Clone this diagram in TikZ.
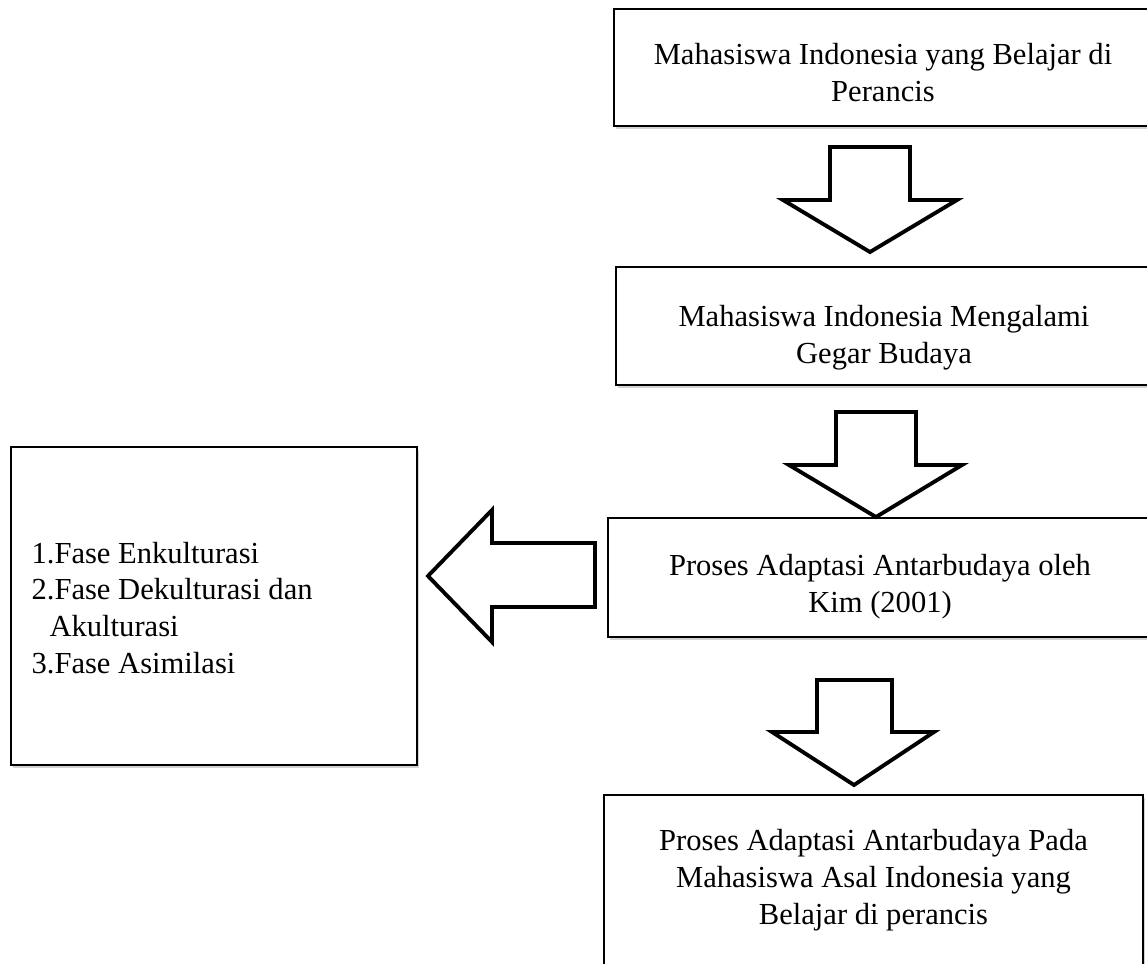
\documentclass[tikz,border=0pt]{standalone}
\usepackage{fontspec}
\setmainfont{Liberation Serif}
\usetikzlibrary{positioning, shadows}

\begin{document}
\begin{tikzpicture}[
  x=0.02cm, y=-0.02cm,
  box/.style = {rectangle, draw=black, line width=0.9pt, fill=white, inner sep=0pt,
                drop shadow={shadow xshift=1pt, shadow yshift=-1.5pt, opacity=0.35}},
  txt/.style = {align=center, font=\fontsize{17.4}{21}\selectfont, inner sep=0pt},
  blk/.style = {draw=black, line width=2.2pt, fill=white, line join=miter},
]
  \useasboundingbox (0,0) rectangle (1147,964);
  \clip (0,0) rectangle (1147,964);

  % boxes
  \node[box, minimum width=10.76cm, minimum height=2.34cm] (awal) at (883,67.5) {};
  \node[box, minimum width=10.72cm, minimum height=2.36cm] (gegar) at (884,326) {};
  \node[box, minimum width=10.88cm, minimum height=2.38cm] (kim) at (880,577.5) {};
  \node[box, minimum width=8.12cm, minimum height=6.36cm] (fase) at (214,606) {};
  \node[box, minimum width=10.78cm, minimum height=4.1cm] (hasil) at (873.5,897.5) {};

  % texts
  \node[txt] (t-awal) at ([yshift=-0.1cm]awal.center)
    {Mahasiswa Indonesia yang Belajar di\\Perancis};
  \node[txt] (t-gegar) at ([yshift=-0.24cm]gegar.center)
    {Mahasiswa Indonesia Mengalami\\Gegar Budaya};
  \node[txt] (t-kim) at ([yshift=-0.18cm]kim.center)
    {Proses Adaptasi Antarbudaya oleh\\Kim (2001)};
  \node[txt, align=left, anchor=west] (t-fase) at ([xshift=0.42cm,yshift=-0.04cm]fase.west)
    {1.Fase Enkulturasi\\2.Fase Dekulturasi dan\\\hspace*{0.36cm}Akulturasi\\3.Fase Asimilasi};
  \node[txt] (t-hasil) at (873.5,880)
    {Proses Adaptasi Antarbudaya Pada\\Mahasiswa Asal Indonesia yang\\Belajar di perancis};

  % block arrows
  \draw[blk] (830,147) -- (910,147) -- (910,200) -- (957,200) -- (870,252)
             -- (783,200) -- (830,200) -- cycle;
  \draw[blk] (836,412) -- (916,412) -- (916,465) -- (962,465) -- (876,517)
             -- (789,465) -- (836,465) -- cycle;
  \draw[blk] (817,680) -- (892,680) -- (892,732) -- (934,732) -- (854,785)
             -- (772,732) -- (817,732) -- cycle;
  \draw[blk] (595,543) -- (492,543) -- (492,510) -- (428,576) -- (492,642)
             -- (492,607) -- (595,607) -- cycle;
\end{tikzpicture}
\end{document}
